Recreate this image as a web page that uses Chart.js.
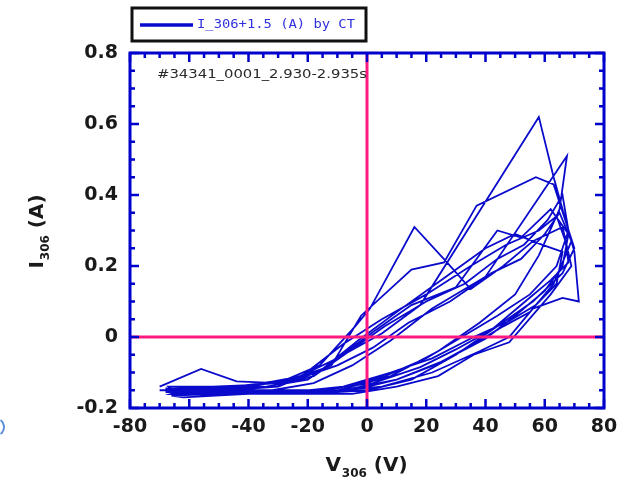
<!DOCTYPE html>
<html>
<head>
<meta charset="utf-8">
<script src="https://cdn.jsdelivr.net/npm/chart.js@4.4.0/dist/chart.umd.min.js"></script>
<style>
  html, body { margin: 0; padding: 0; background: #fff; }
  #wrap { width: 634px; height: 483px; }
</style>
</head>
<body>
<div id="wrap"><canvas id="ivChart" width="634" height="483"></canvas></div>
<script>
// V_306 sweep and probe current, one line per sweep cycle
const voltage = [
    -70, -56, -44, -30, -16, -4, 1, 16, 27, 35, 46, 56, 66,
    69, 62, 48, 36, 24, 10, -5, -25, -45, -66,
    -62, -48, -30, -12, -2, 15, 26, 37, 57, 63,
    70, 66, 56, 44, 30, 15, 0, -20, -40, -64,
    -68, -50, -34, -20, -8, 5, 18, 58, 63, 70,
    71.5, 66, 56, 48, 38, 22, 5, -15, -40, -62,
    -66, -50, -32, -18, -5, 8, 22, 40, 67.5,
    65, 58, 50, 38, 24, 8, -10, -30, -50, -68,
    -64, -45, -25, -10, 3, 15, 30, 44, 52, 62, 68,
    66, 60, 50, 40, 25, 10, -8, -28, -50, -65,
    -67, -52, -38, -22, -8, 5, 20, 35, 47, 58, 64, 67,
    68, 62, 52, 42, 30, 18, 2, -18, -38, -60,
    -70, -55, -40, -24, -10, 2, 14, 28, 42, 52, 60, 65,
    69, 63, 55, 46, 36, 24, 10, -5, -22, -45, -64,
    -65, -48, -30, -15, -3, 10, 25, 40, 50, 59, 66,
    64, 57, 48, 36, 22, 8, -8, -26, -46, -66,
    -68, -50, -33, -18, -6, 6, 20, 33, 44, 53, 61, 66,
    68, 64, 55, 44, 32, 20, 6, -10, -30, -55, -68
];
const current = [
    -0.14, -0.09, -0.125, -0.13, -0.08, 0.03, 0.08, 0.31, 0.21, 0.135, 0.2, 0.27, 0.31,
    0.2, 0.12, -0.015, -0.05, -0.11, -0.14, -0.16, -0.16, -0.155, -0.16,
    -0.15, -0.15, -0.14, -0.08, 0.06, 0.19, 0.21, 0.37, 0.45, 0.43,
    0.25, 0.18, 0.1, 0.03, -0.05, -0.12, -0.15, -0.16, -0.16, -0.155,
    -0.155, -0.145, -0.14, -0.12, -0.05, 0.01, 0.09, 0.62, 0.45, 0.24,
    0.1, 0.11, 0.08, 0.0, -0.04, -0.1, -0.14, -0.155, -0.16, -0.17,
    -0.165, -0.16, -0.15, -0.13, -0.08, -0.01, 0.08, 0.17, 0.51,
    0.36, 0.23, 0.12, 0.04, -0.04, -0.11, -0.15, -0.155, -0.15, -0.145,
    -0.15, -0.14, -0.12, -0.06, 0.02, 0.09, 0.14, 0.3, 0.28, 0.36, 0.29,
    0.2, 0.13, 0.06, -0.005, -0.07, -0.12, -0.15, -0.16, -0.16, -0.155,
    -0.14, -0.14, -0.135, -0.11, -0.02, 0.05, 0.12, 0.2, 0.26, 0.3, 0.34, 0.27,
    0.21, 0.16, 0.09, 0.02, -0.035, -0.085, -0.13, -0.15, -0.15, -0.15,
    -0.15, -0.15, -0.14, -0.12, -0.08, -0.03, 0.04, 0.1, 0.18, 0.22, 0.29, 0.35,
    0.27, 0.15, 0.07, 0.03, -0.02, -0.075, -0.12, -0.15, -0.16, -0.16, -0.16,
    -0.145, -0.14, -0.13, -0.09, -0.01, 0.07, 0.16, 0.25, 0.29, 0.26, 0.24,
    0.15, 0.09, 0.045, 0.0, -0.06, -0.1, -0.14, -0.155, -0.155, -0.15,
    -0.15, -0.15, -0.14, -0.11, -0.04, 0.03, 0.1, 0.15, 0.22, 0.26, 0.33, 0.4,
    0.3, 0.2, 0.12, 0.06, 0.0, -0.06, -0.11, -0.145, -0.155, -0.155, -0.15
];

const xTicks = [-80, -60, -40, -20, 0, 20, 40, 60, 80];
const yTicks = [-0.2, 0, 0.2, 0.4, 0.6, 0.8];
const legendText = 'I_306+1.5 (A) by CT';
const shotText = '#34341_0001_2.930-2.935s';

const BLUE = '#0a0acc';
const PINK = '#ff1a80';

// draw a string squeezed/stretched to a given width
const fitText = (ctx, text, x, y, width) => {
    const w = ctx.measureText(text).width;
    ctx.save();
    ctx.translate(x, y);
    ctx.scale(width / w, 1);
    ctx.fillText(text, 0, 0);
    ctx.restore();
};

// main text + subscript + tail, centred on 0
const drawSubTitle = (ctx, main, sub, tail) => {
    const big = 'bold 20px "DejaVu Sans"';
    const small = 'bold 12px "DejaVu Sans"';
    ctx.font = big;
    const w1 = ctx.measureText(main).width;
    const w3 = ctx.measureText(tail).width;
    ctx.font = small;
    const w2 = ctx.measureText(sub).width;
    let x = -(w1 + w2 + w3) / 2;
    ctx.textBaseline = 'alphabetic';
    ctx.textAlign = 'left';
    ctx.font = big;
    ctx.fillText(main, x, 7);
    x += w1 + 1;
    ctx.font = small;
    ctx.fillText(sub, x, 13);
    x += w2;
    ctx.font = big;
    ctx.fillText(tail, x, 7);
};

const framePlugin = {
    id: 'frame',
    afterDatasetsDraw(chart) {
        const { ctx, chartArea: a, scales: { x, y } } = chart;
        ctx.save();

        // zero lines
        const x0 = x.getPixelForValue(0);
        const y0 = y.getPixelForValue(0);
        ctx.strokeStyle = PINK;
        ctx.lineWidth = 3;
        ctx.beginPath();
        ctx.moveTo(x0, a.top);
        ctx.lineTo(x0, a.bottom);
        ctx.moveTo(a.left, y0);
        ctx.lineTo(a.right, y0);
        ctx.stroke();

        // box
        ctx.strokeStyle = '#0000cc';
        ctx.lineWidth = 3;
        ctx.strokeRect(a.left, a.top, a.right - a.left, a.bottom - a.top);

        // inward ticks, minor every 5 V / 0.05 A
        ctx.lineWidth = 2.5;
        ctx.beginPath();
        for (let k = -16; k <= 16; k++) {
            const px = x.getPixelForValue(k * 5);
            const len = k % 4 === 0 ? 9 : 5;
            ctx.moveTo(px, a.bottom);
            ctx.lineTo(px, a.bottom - len);
            ctx.moveTo(px, a.top);
            ctx.lineTo(px, a.top + len);
        }
        for (let k = -4; k <= 16; k++) {
            const py = y.getPixelForValue(k * 0.05);
            const len = k % 4 === 0 ? 9 : 5;
            ctx.moveTo(a.left, py);
            ctx.lineTo(a.left + len, py);
            ctx.moveTo(a.right, py);
            ctx.lineTo(a.right - len, py);
        }
        ctx.stroke();

        // shot label
        ctx.fillStyle = '#2a2a2a';
        ctx.font = '13px "DejaVu Sans"';
        ctx.textBaseline = 'middle';
        ctx.textAlign = 'left';
        fitText(ctx, shotText, 157, 75, 210);

        // legend box
        ctx.fillStyle = '#fff';
        ctx.fillRect(132, 8, 234, 33);
        ctx.strokeStyle = '#111';
        ctx.lineWidth = 3;
        ctx.strokeRect(132, 8, 234, 33);
        ctx.strokeStyle = BLUE;
        ctx.lineWidth = 3.5;
        ctx.beginPath();
        ctx.moveTo(140, 25);
        ctx.lineTo(193, 25);
        ctx.stroke();
        ctx.fillStyle = '#3030dd';
        ctx.font = '13px "DejaVu Sans Mono"';
        fitText(ctx, legendText, 197, 25, 158);

        // stray mark at the left edge of the original
        ctx.strokeStyle = '#5b8fe0';
        ctx.lineWidth = 2;
        ctx.beginPath();
        ctx.arc(-5, 427, 9, -0.9, 0.9);
        ctx.stroke();

        // axis titles
        ctx.fillStyle = '#1a1a1a';
        ctx.save();
        ctx.translate(366, 464);
        drawSubTitle(ctx, 'V', '306', ' (V)');
        ctx.restore();
        ctx.save();
        ctx.translate(36, 232);
        ctx.rotate(-Math.PI / 2);
        drawSubTitle(ctx, 'I', '306', ' (A)');
        ctx.restore();

        ctx.restore();
    }
};

const tickFont = { family: 'DejaVu Sans', weight: 'bold', size: 19 };

new Chart(document.getElementById('ivChart'), {
    type: 'scatter',
    data: {
        datasets: [{
            label: legendText,
            data: voltage.map((v, i) => ({ x: v, y: current[i] })),
            showLine: true,
            borderColor: BLUE,
            borderWidth: 1.8,
            pointRadius: 0,
            tension: 0
        }]
    },
    options: {
        responsive: false,
        animation: false,
        layout: { padding: { top: 53, right: 30, left: 0, bottom: 0 } },
        plugins: {
            legend: { display: false },
            tooltip: { enabled: false }
        },
        scales: {
            x: {
                type: 'linear',
                min: -80,
                max: 80,
                afterBuildTicks: s => { s.ticks = xTicks.map(v => ({ value: v })); },
                afterFit: s => { s.height = 75; },
                grid: { display: false, drawTicks: false },
                border: { display: false },
                ticks: { font: tickFont, color: '#1a1a1a', padding: 8, maxRotation: 0 }
            },
            y: {
                type: 'linear',
                min: -0.2,
                max: 0.8,
                afterBuildTicks: s => { s.ticks = yTicks.map(v => ({ value: v })); },
                afterFit: s => { s.width = 130; },
                grid: { display: false, drawTicks: false },
                border: { display: false },
                ticks: { font: tickFont, color: '#1a1a1a', padding: 12 }
            }
        }
    },
    plugins: [framePlugin]
});
</script>
</body>
</html>
